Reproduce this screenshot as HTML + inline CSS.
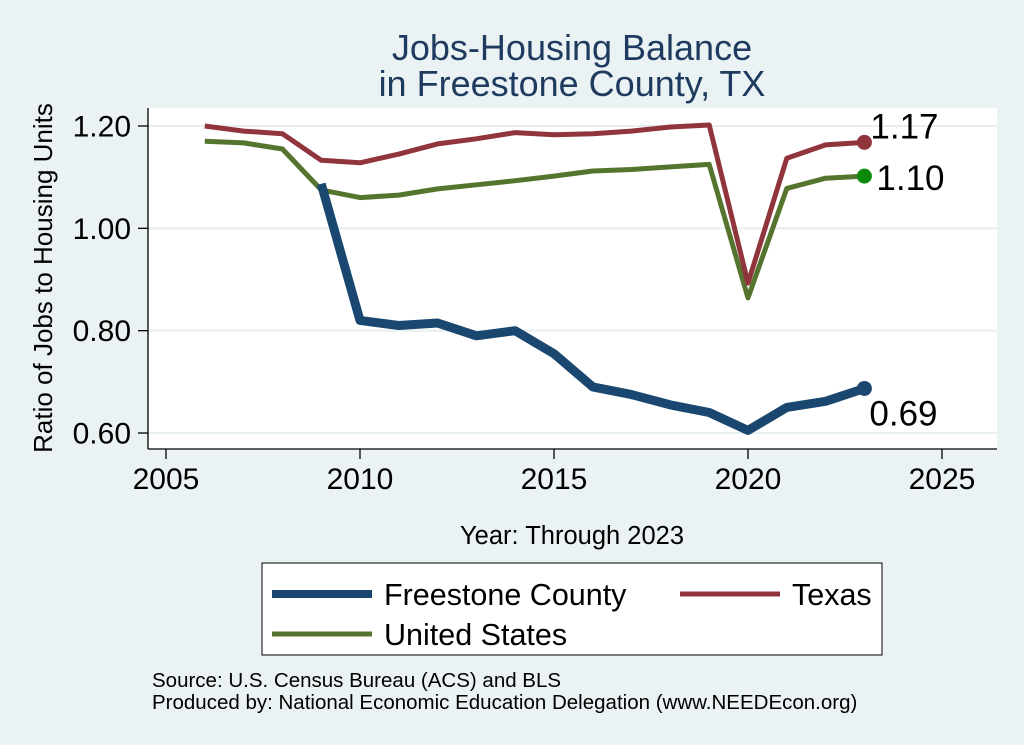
<!DOCTYPE html>
<html><head><meta charset="utf-8"><style>
body{margin:0;background:#eaf2f3;}
svg{display:block;font-family:"Liberation Sans",Arial,sans-serif;}
</style></head><body>
<svg id="chart" width="1024" height="745" viewBox="0 0 1024 745">
<rect width="1024" height="745" fill="#eaf2f3"/>
<text x="572" y="60" font-size="36" fill="#1e3b5f" text-anchor="middle">Jobs-Housing Balance</text>
<text x="572" y="96" font-size="36" fill="#1e3b5f" text-anchor="middle">in Freestone County, TX</text>
<rect x="148" y="108" width="849" height="341" fill="#fff"/>
<g id="grid"></g>
<line x1="148" y1="108" x2="148" y2="449" stroke="#000" stroke-width="1.3"/>
<line x1="148" y1="449" x2="997" y2="449" stroke="#000" stroke-width="1.3"/>
<g id="axes"></g><g id="series"></g>
<text x="52" y="278" font-size="26" text-anchor="middle" transform="rotate(-90 52 278)">Ratio of Jobs to Housing Units</text>
<text x="572" y="544" font-size="25.5" text-anchor="middle">Year: Through 2023</text>
<g>
<rect x="262" y="563" width="620" height="92" fill="#fff" stroke="#000"/>
<line x1="272" y1="594" x2="372" y2="594" stroke="#1a476f" stroke-width="8"/>
<text x="384" y="605" font-size="30.5">Freestone County</text>
<line x1="680" y1="594" x2="780" y2="594" stroke="#90353b" stroke-width="5"/>
<text x="792" y="605" font-size="30.5">Texas</text>
<line x1="272" y1="634" x2="372" y2="634" stroke="#55752f" stroke-width="5"/>
<text x="384" y="645" font-size="30.5">United States</text>
</g>
<text x="152" y="687" font-size="20.5">Source: U.S. Census Bureau (ACS) and BLS</text>
<text x="152" y="709" font-size="20.5">Produced by: National Economic Education Delegation (www.NEEDEcon.org)</text>
</svg>
<script>
const years=[2006,2007,2008,2009,2010,2011,2012,2013,2014,2015,2016,2017,2018,2019,2020,2021,2022,2023];
const freestone=[null,null,null,1.087,0.82,0.81,0.815,0.79,0.80,0.755,0.69,0.675,0.655,0.64,0.605,0.65,0.662,0.687];
const texas=[1.20,1.19,1.185,1.133,1.128,1.145,1.165,1.175,1.187,1.183,1.185,1.19,1.198,1.202,0.893,1.137,1.163,1.168];
const us=[1.17,1.167,1.155,1.075,1.06,1.065,1.077,1.085,1.093,1.102,1.112,1.115,1.12,1.125,0.864,1.078,1.098,1.102];
const xTicks=[2005,2010,2015,2020,2025];
const yTicks=[0.6,0.8,1.0,1.2];
const endLabels=["0.69","1.17","1.10"];
const NS="http://www.w3.org/2000/svg";
const xs=v=>166+(v-2005)*38.8;
const ys=v=>433-(v-0.6)*511.7;
function mk(tag,attrs,parent,text){const e=document.createElementNS(NS,tag);for(const k in attrs)e.setAttribute(k,attrs[k]);if(text!==undefined)e.textContent=text;document.getElementById(parent).appendChild(e);return e;}
yTicks.forEach(t=>{
 const g=mk('line',{x1:148,x2:997,y1:ys(t),y2:ys(t),stroke:'#e6eeef','stroke-width':2},'grid');
 
 
 const tk=mk('line',{x1:138,x2:148,y1:ys(t),y2:ys(t),stroke:'#000','stroke-width':1.3},'axes');
 
 
 const l=mk('text',{x:131,y:ys(t)+10.5,'font-size':30,'text-anchor':'end'},'axes',t.toFixed(2));
 
 
});
xTicks.forEach(t=>{
 const tk=mk('line',{x1:xs(t),x2:xs(t),y1:449,y2:459,stroke:'#000','stroke-width':1.3},'axes');
 
 
 const l=mk('text',{x:xs(t),y:489,'font-size':30,'text-anchor':'middle'},'axes',String(t));
 
 
});
function line(vals,color,w,name,dot){
 const pts=[];vals.forEach((v,i)=>{if(v!==null)pts.push(xs(years[i]).toFixed(1)+','+ys(v).toFixed(1));});
 const p=mk('polyline',{points:pts.join(' '),fill:'none',stroke:color,'stroke-width':w,'stroke-linejoin':'round'},'series');
 
 
 const last=vals[vals.length-1];
 const c=mk('circle',{cx:xs(years[years.length-1]),cy:ys(last),r:7.5,fill:dot},'series');
 
 
}
line(us,'#55752f',5,'us-line','#0a8a0a');
line(texas,'#90353b',5,'texas-line','#90353b');
line(freestone,'#1a476f',9,'freestone-line','#1a476f');
const lx=xs(2023);
const f=mk('text',{x:lx+5,y:ys(freestone[17])+37,'font-size':35},'series',endLabels[0]);


const t=mk('text',{x:lx+6,y:ys(texas[17])-4,'font-size':35},'series',endLabels[1]);


const u=mk('text',{x:lx+12,y:ys(us[17])+14,'font-size':35},'series',endLabels[2]);


</script>
</body></html>
